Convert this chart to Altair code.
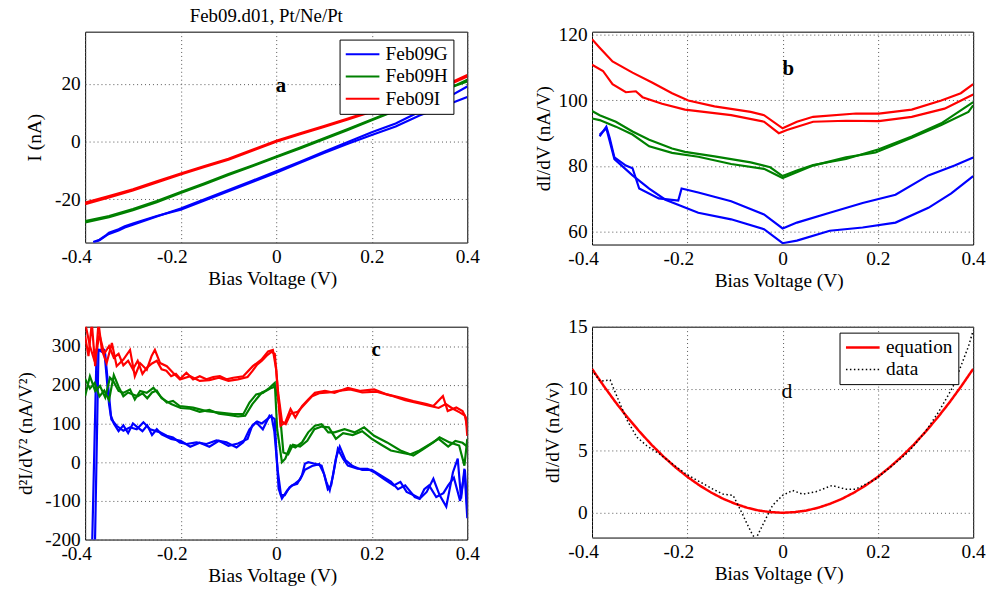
import altair as alt
import pandas as pd

FONT = "Liberation Serif"
FS = 19.5
SERIES = ["Feb09G", "Feb09H", "Feb09I"]
COLORS = ["#0000ff", "#008000", "#ff0000"]
XTICKS = [-0.4, -0.2, 0, 0.2, 0.4]

# ---------- panel a : I-V ----------
A_XG = [-0.383, -0.37, -0.356, -0.35, -0.33, -0.317, -0.3, -0.25, -0.2, -0.15, -0.1,
        -0.05, 0, 0.05, 0.1, 0.15, 0.2, 0.25, 0.3, 0.35, 0.4]
A_G1 = [-35, -34.2, -32.6, -32, -30.8, -29.8, -28.8, -26, -23.2, -20, -16.8,
        -13.6, -10.3, -7, -3.6, -0.2, 3.2, 6.2, 10.3, 14.4, 19]
A_G2 = [-34.8, -34, -32.4, -31.6, -30.4, -29.4, -28.4, -25.8, -23.6, -20.4, -17.2,
        -14, -10.8, -7.4, -4, -0.8, 2.2, 5.2, 9, 12.2, 15.4]
A_X = [-0.4, -0.35, -0.3, -0.25, -0.2, -0.15, -0.1, -0.05, 0, 0.05, 0.1, 0.15, 0.2,
       0.25, 0.3, 0.35, 0.4]
A_H1 = [-28, -26.2, -23.8, -21, -17.8, -14.8, -11.6, -8.6, -5.5, -2.4, 0.8, 4, 7.3,
        10.6, 14, 17.4, 21.4]
A_H2 = [-27.6, -25.8, -23.4, -20.6, -17.5, -14.5, -11.3, -8.3, -5.2, -2.1, 1.1, 4.3,
        7.6, 10.9, 14.3, 17.8, 20.8]
A_I1 = [-21.7, -19.4, -17, -14.2, -11.4, -8.8, -6.3, -3.2, -0.1, 2.5, 5, 7.6, 10.3,
        13, 15.7, 18.8, 22.5]
A_I2 = [-21.2, -18.9, -16.6, -13.8, -11.1, -8.5, -6, -2.9, 0.2, 2.8, 5.3, 7.9, 10.6,
        13.3, 16, 19.2, 23]

# ---------- panel b : dI/dV ----------
B_IUX = [-0.4, -0.384, -0.357, -0.315, -0.274, -0.232, -0.198, -0.143, -0.067, -0.039,
         0, 0.03, 0.064, 0.154, 0.202, 0.271, 0.333, 0.374, 0.4]
B_IUY = [118.7, 116.1, 111.9, 108.5, 105.5, 102.2, 100, 98.2, 96.5, 95.5,
         91.5, 93.5, 95, 96, 96, 97.2, 100, 102.2, 105]
B_ILX = [-0.4, -0.377, -0.357, -0.329, -0.308, -0.294, -0.253, -0.205, -0.108, -0.039,
         -0.008, 0.009, 0.064, 0.133, 0.202, 0.271, 0.34, 0.4]
B_ILY = [110.9, 109, 105, 102.5, 102.8, 101, 99, 97.2, 95.5, 93.5,
         90, 91, 93.5, 93.8, 93.7, 95, 97.5, 101.8]
B_HUX = [-0.4, -0.384, -0.35, -0.315, -0.28, -0.232, -0.205, -0.143, -0.067, -0.026,
         0, 0.03, 0.064, 0.133, 0.202, 0.271, 0.333, 0.4]
B_HUY = [96.8, 95.5, 93.5, 90.5, 88, 85.3, 84.3, 82.9, 81.1, 79.6,
         76.9, 78.6, 80.3, 82.1, 85.1, 89, 93, 99.5]
B_HLX = [-0.4, -0.384, -0.35, -0.315, -0.28, -0.232, -0.177, -0.108, -0.039, 0,
         0.064, 0.133, 0.195, 0.271, 0.333, 0.39, 0.4]
B_HLY = [94.5, 94, 92, 89.6, 86, 84, 82.8, 80.6, 79.1, 76.3,
         80.1, 82.6, 84.1, 88.6, 92.5, 96.5, 98.5]
B_GUX = [-0.384, -0.37, -0.363, -0.353, -0.329, -0.315, -0.301, -0.26, -0.219, -0.212,
         -0.177, -0.108, -0.039, 0, 0.03, 0.099, 0.168, 0.237, 0.306, 0.361, 0.4]
B_GUY = [89, 92, 88.6, 82.6, 80.1, 79.3, 73.1, 70.1, 69.4, 73.1,
         71.9, 69.2, 65.2, 60.9, 62.7, 65.7, 68.7, 71.2, 77.1, 80.1, 82.6]
B_GLX = [-0.384, -0.37, -0.353, -0.315, -0.28, -0.246, -0.177, -0.108, -0.039, 0,
         0.03, 0.099, 0.168, 0.237, 0.306, 0.354, 0.4]
B_GLY = [89.5, 91.5, 82.1, 77.1, 73.1, 69.7, 65.7, 63.7, 60.7, 56.4,
         57.2, 60.2, 61.2, 62.7, 67.2, 71.6, 76.9]

# ---------- panel c : d2I/dV2 ----------
C_I1X = [-0.4, -0.393, -0.386, -0.379, -0.372, -0.365, -0.355, -0.344, -0.334, -0.32,
         -0.306, -0.296, -0.285, -0.271, -0.261, -0.254, -0.243, -0.229, -0.216, -0.202,
         -0.188, -0.174, -0.16, -0.146, -0.132, -0.118, -0.104, -0.09, -0.069, -0.049,
         -0.031, -0.017, -0.007, 0.0, 0.006, 0.009, 0.019, 0.03, 0.04, 0.054,
         0.067, 0.081, 0.102, 0.122, 0.15, 0.177, 0.205, 0.232, 0.26, 0.287,
         0.315, 0.329, 0.349, 0.359, 0.377, 0.39, 0.397, 0.4]
C_I1Y = [325, 274, 360, 248, 360, 290, 256, 308, 248, 265,
         290, 222, 256, 239, 274, 290, 256, 248, 231, 214,
         231, 214, 222, 214, 220, 222, 214, 218, 222, 248,
         265, 286, 290, 239, 137, 94, 103, 137, 115, 145,
         162, 179, 184, 179, 192, 184, 188, 175, 167, 158,
         150, 145, 171, 132, 141, 132, 115, 68]
C_I2X = [-0.4, -0.39, -0.38, -0.37, -0.36, -0.35, -0.34, -0.33, -0.32, -0.31,
         -0.3, -0.29, -0.28, -0.27, -0.26, -0.25, -0.24, -0.23, -0.22, -0.21,
         -0.2, -0.18, -0.16, -0.14, -0.12, -0.1, -0.08, -0.06, -0.05, -0.04,
         -0.03, -0.02, -0.01, -0.003, 0.004, 0.012, 0.02, 0.03, 0.045, 0.06,
         0.075, 0.09, 0.11, 0.13, 0.155, 0.18, 0.21, 0.24, 0.27, 0.3,
         0.32, 0.34, 0.355, 0.37, 0.385, 0.395, 0.4]
C_I2Y = [360, 300, 260, 330, 280, 300, 270, 280, 250, 262,
         240, 262, 228, 245, 255, 262, 240, 236, 222, 228,
         214, 222, 210, 212, 218, 210, 214, 220, 235, 252,
         262, 275, 285, 280, 180, 105, 98, 125, 130, 150,
         170, 178, 180, 184, 188, 180, 182, 172, 160, 152,
         146, 140, 150, 138, 128, 120, 90]
C_H1X = [-0.4, -0.39, -0.379, -0.369, -0.358, -0.348, -0.341, -0.33, -0.32, -0.306,
         -0.296, -0.285, -0.271, -0.257, -0.243, -0.229, -0.216, -0.202, -0.174, -0.146,
         -0.118, -0.09, -0.069, -0.056, -0.042, -0.028, -0.014, -0.003, 0.002, 0.012,
         0.019, 0.03, 0.04, 0.054, 0.067, 0.081, 0.095, 0.109, 0.122, 0.143,
         0.164, 0.184, 0.205, 0.232, 0.26, 0.287, 0.308, 0.329, 0.342, 0.363,
         0.383, 0.394, 0.4]
C_H1Y = [171, 222, 184, 197, 167, 218, 209, 184, 179, 188,
         162, 184, 179, 192, 171, 154, 158, 145, 141, 132,
         128, 124, 124, 154, 175, 179, 192, 205, 85, 0,
         9, 43, 38, 51, 77, 94, 98, 77, 77, 85,
         77, 90, 68, 51, 30, 17, 34, 51, 64, 51,
         43, -9, 60]
C_H2X = [-0.4, -0.39, -0.38, -0.37, -0.36, -0.35, -0.34, -0.33, -0.32, -0.31,
         -0.3, -0.29, -0.28, -0.27, -0.26, -0.25, -0.24, -0.22, -0.2, -0.18,
         -0.16, -0.14, -0.12, -0.1, -0.08, -0.065, -0.05, -0.04, -0.03, -0.02,
         -0.01, -0.002, 0.006, 0.015, 0.025, 0.035, 0.05, 0.065, 0.08, 0.095,
         0.11, 0.125, 0.14, 0.16, 0.18, 0.2, 0.22, 0.24, 0.26, 0.28,
         0.3, 0.32, 0.34, 0.36, 0.375, 0.39, 0.4]
C_H2Y = [215, 190, 205, 170, 185, 160, 225, 195, 170, 180,
         175, 170, 178, 165, 180, 185, 165, 150, 140, 138,
         130, 135, 125, 122, 118, 120, 150, 165, 180, 185,
         192, 195, 150, 25, 20, 45, 40, 55, 85, 92,
         90, 60, 75, 70, 80, 60, 45, 30, 25, 20,
         30, 45, 60, 40, 55, 50, 40]
C_G1X = [-0.386, -0.376, -0.36, -0.35, -0.345, -0.334, -0.32, -0.306, -0.292, -0.278,
         -0.264, -0.243, -0.229, -0.216, -0.202, -0.188, -0.167, -0.146, -0.125, -0.104,
         -0.083, -0.069, -0.056, -0.042, -0.028, -0.014, -0.003, 0.0, 0.005, 0.012,
         0.023, 0.033, 0.044, 0.054, 0.06, 0.067, 0.081, 0.095, 0.105, 0.112,
         0.119, 0.129, 0.14, 0.15, 0.17, 0.191, 0.205, 0.225, 0.246, 0.26,
         0.273, 0.287, 0.301, 0.315, 0.329, 0.342, 0.356, 0.37, 0.38, 0.387,
         0.394, 0.4]
C_G1Y = [-250, 290, 290, 150, 110, 94, 81, 90, 85, 103,
         85, 77, 68, 64, 51, 47, 51, 47, 56, 51,
         38, 51, 85, 103, 85, 120, 111, 34, -68, -94,
         -73, -60, -56, -34, -4, 0, -4, -9, -51, -73,
         -34, 34, 9, -9, -17, -17, -26, -43, -60, -51,
         -77, -85, -94, -77, -43, -85, -115, -26, 9, -94,
         -17, -145]
C_G2X = [-0.38, -0.372, -0.358, -0.352, -0.346, -0.34, -0.33, -0.32, -0.31, -0.3,
         -0.29, -0.28, -0.27, -0.26, -0.25, -0.24, -0.22, -0.2, -0.18, -0.16,
         -0.14, -0.12, -0.1, -0.08, -0.06, -0.05, -0.04, -0.03, -0.02, -0.01,
         -0.004, 0.003, 0.01, 0.018, 0.028, 0.04, 0.05, 0.06, 0.075, 0.09,
         0.1, 0.108, 0.115, 0.125, 0.133, 0.145, 0.16, 0.18, 0.2, 0.22,
         0.24, 0.255, 0.27, 0.28, 0.29, 0.3, 0.31, 0.32, 0.335, 0.35,
         0.36, 0.372, 0.385, 0.395, 0.4]
C_G2Y = [-250, 290, 280, 200, 120, 100, 80, 95, 75, 100,
         90, 80, 95, 70, 85, 72, 60, 55, 40, 50,
         40, 55, 42, 48, 60, 95, 105, 100, 110, 120,
         80, -20, -85, -85, -65, -55, -45, -20, -10, -5,
         -30, -70, -60, 10, 40, 5, -10, -20, -20, -35,
         -50, -70, -60, -75, -90, -95, -70, -60, -90, -80,
         -60, -40, -100, -20, -120]

# ---------- panel d : fit ----------
D_EQX = [-0.4, -0.375, -0.35, -0.325, -0.3, -0.275, -0.25, -0.225, -0.2, -0.175, -0.15,
         -0.125, -0.1, -0.075, -0.05, -0.025, 0, 0.025, 0.05, 0.075, 0.1, 0.125, 0.15,
         0.175, 0.2, 0.225, 0.25, 0.275, 0.3, 0.325, 0.35, 0.375, 0.4]
D_EQY = [11.6, 10.2, 8.88, 7.66, 6.53, 5.48, 4.53, 3.67, 2.9, 2.22, 1.63,
         1.13, 0.73, 0.41, 0.18, 0.05, 0, 0.05, 0.18, 0.41, 0.73, 1.13, 1.63,
         2.22, 2.9, 3.67, 4.53, 5.48, 6.53, 7.66, 8.88, 10.2, 11.6]
D_DX = [-0.4, -0.383, -0.362, -0.348, -0.327, -0.306, -0.285, -0.257, -0.23, -0.202,
        -0.174, -0.146, -0.125, -0.104, -0.09, -0.077, -0.063, -0.056, -0.042, -0.021,
        0, 0.021, 0.042, 0.07, 0.104, 0.132, 0.153, 0.195, 0.23, 0.264,
        0.299, 0.327, 0.348, 0.358, 0.39, 0.4]
D_DY = [11.5, 10.6, 10.7, 9.4, 7.5, 6.1, 5.4, 4.7, 3.9, 3.1,
        2.5, 1.9, 1.5, 1.4, 0.35, -0.7, -1.8, -2.1, -1.0, 0.6,
        1.4, 1.8, 1.5, 1.7, 2.2, 1.9, 1.9, 2.7, 3.8, 4.9,
        6.5, 8.1, 9.5, 10.2, 13.4, 14.7]

LETTERS = ["a", "b", "c", "d"]
LETTER_X = [0.01, 0.012, 0.209, 0.009]
LETTER_Y = [19, 109.6, 289, 9.8]


def frame(traces):
    rows = []
    for series, trace, xs, ys in traces:
        assert len(xs) == len(ys)
        for x, y in zip(xs, ys):
            rows.append({"x": x, "y": y, "series": series, "trace": trace})
    return pd.DataFrame(rows)


df_a = frame([("Feb09G", "G1", A_XG, A_G1), ("Feb09G", "G2", A_XG, A_G2),
              ("Feb09H", "H1", A_X, A_H1), ("Feb09H", "H2", A_X, A_H2),
              ("Feb09I", "I1", A_X, A_I1), ("Feb09I", "I2", A_X, A_I2)])
df_b = frame([("Feb09G", "G1", B_GUX, B_GUY), ("Feb09G", "G2", B_GLX, B_GLY),
              ("Feb09H", "H1", B_HUX, B_HUY), ("Feb09H", "H2", B_HLX, B_HLY),
              ("Feb09I", "I1", B_IUX, B_IUY), ("Feb09I", "I2", B_ILX, B_ILY)])
df_c = frame([("Feb09G", "G1", C_G1X, C_G1Y), ("Feb09G", "G2", C_G2X, C_G2Y),
              ("Feb09H", "H1", C_H1X, C_H1Y), ("Feb09H", "H2", C_H2X, C_H2Y),
              ("Feb09I", "I1", C_I1X, C_I1Y), ("Feb09I", "I2", C_I2X, C_I2Y)])
df_d = frame([("equation", "eq", D_EQX, D_EQY), ("data", "data", D_DX, D_DY)])

LABEL_EXPR = "'' + datum.value"
NEG_OFFSET = {"condition": {"test": "datum.value < 0", "value": -9}, "value": 0}


def xaxis(width):
    return alt.Axis(values=XTICKS, labelExpr=LABEL_EXPR, title="Bias Voltage (V)",
                    labelOffset=NEG_OFFSET, labelFlush=False, titleX=width / 2 - 4,
                    titleY=36, titleBaseline="middle", titleAlign="center",
                    labelPadding=5)


def yaxis(title, values, tx, height):
    return alt.Axis(values=values, labelExpr=LABEL_EXPR, title=title, titleX=tx,
                    titleY=height / 2, titleAngle=270, titleAlign="center",
                    titleBaseline="middle", labelPadding=5)


def legend_style(x, y):
    return dict(orient="none", legendX=x, legendY=y, title=None,
                symbolType="M-1,0L3,0", symbolSize=289, symbolStrokeWidth=2,
                labelFont=FONT, labelFontSize=FS, labelColor="black",
                strokeColor="black", fillColor="white", padding=5, rowPadding=1.5,
                labelOffset=22, cornerRadius=0,
                labelExpr="datum.label + '\u00a0\u00a0\u00a0'")


def panel(df, width, height, ydom, ytitle, yvals, tx, letter_idx, legend):
    color = alt.Color("series:N", scale=alt.Scale(domain=SERIES, range=COLORS),
                      legend=legend)
    lines = alt.Chart(df).mark_line(clip=True, strokeWidth=2.2).encode(
        x=alt.X("x:Q", scale=alt.Scale(domain=[-0.4, 0.4], nice=False, zero=False),
                axis=xaxis(width)),
        y=alt.Y("y:Q", scale=alt.Scale(domain=ydom, nice=False, zero=False),
                axis=yaxis(ytitle, yvals, tx, height)),
        color=color,
        detail="trace:N",
    )
    tdf = pd.DataFrame({"x": [LETTER_X[letter_idx]], "y": [LETTER_Y[letter_idx]],
                        "t": [LETTERS[letter_idx]]})
    text = alt.Chart(tdf).mark_text(font=FONT, fontSize=21, color="black",
                                    fontWeight="bold", baseline="middle",
                                    align="center").encode(
        x=alt.X("x:Q", title="Bias Voltage (V)"),
        y=alt.Y("y:Q", title=ytitle),
        text="t:N",
    )
    return alt.layer(lines, text).properties(width=width, height=height)


pa = panel(df_a, 386, 213, [-35, 38], "I (nA)", [-20, 0, 20], -51, 0,
           alt.Legend(**legend_style(257, 8))).properties(
    title=alt.TitleParams("Feb09.d01, Pt/Ne/Pt", font=FONT, fontSize=19,
                          fontWeight="normal", color="black", anchor="middle",
                          dx=-10, offset=-3.5, baseline="middle"))
pb = panel(df_b, 385, 215, [56, 121], "dI/dV (nA/V)", [60, 80, 100, 120], -49, 1, None)
pc = panel(df_c, 386, 215, [-200, 350], "d\u00b2I/dV\u00b2 (nA/V\u00b2)",
           [-200, -100, 0, 100, 200, 300], -60, 2, None)

# panel d
d_lines = alt.Chart(df_d).mark_line(clip=True).encode(
    x=alt.X("x:Q", scale=alt.Scale(domain=[-0.4, 0.4], nice=False, zero=False),
            axis=xaxis(385)),
    y=alt.Y("y:Q", scale=alt.Scale(domain=[-2, 15], nice=False, zero=False),
            axis=yaxis("dI/dV (nA/v)", [0, 5, 10, 15], -40, 213)),
    color=alt.Color("series:N", scale=alt.Scale(domain=["equation", "data"],
                                                range=["#ff0000", "#000000"]),
                    legend=alt.Legend(**legend_style(250, 6))),
    strokeDash=alt.StrokeDash("series:N", scale=alt.Scale(domain=["equation", "data"],
                                                          range=[[1, 0], [1.5, 2.5]]),
                              legend=alt.Legend(**legend_style(250, 6))),
    strokeWidth=alt.StrokeWidth("series:N", scale=alt.Scale(domain=["equation", "data"],
                                                            range=[2.5, 1.5]),
                                legend=None),
    detail="trace:N",
)
d_text = alt.Chart(pd.DataFrame({"x": [LETTER_X[3]], "y": [LETTER_Y[3]],
                                 "t": [LETTERS[3]]})).mark_text(
    font=FONT, fontSize=22, color="black", baseline="middle", align="center").encode(
    x=alt.X("x:Q", title="Bias Voltage (V)"),
    y=alt.Y("y:Q", title="dI/dV (nA/v)"),
    text="t:N",
)
pd_ = alt.layer(d_lines, d_text).properties(width=385, height=213)

chart = alt.concat(
    pa, pb, pc, pd_, columns=2, bounds="flush",
    spacing={"row": 83, "column": 126},
).resolve_scale(
    color="independent", strokeDash="independent", strokeWidth="independent"
).properties(
    padding={"left": 15, "top": 4, "right": 5, "bottom": 5},
    background="white",
).configure_axis(
    labelFont=FONT, labelFontSize=FS, labelColor="black",
    titleFont=FONT, titleFontSize=FS, titleFontWeight="normal", titleColor="black",
    grid=True, gridDash=[1, 3], gridColor="#555555", gridWidth=1,
    ticks=False, domain=False,
).configure_view(stroke="black", strokeWidth=1)

chart.save("out.html", embed_options={"renderer": "svg", "actions": False})
